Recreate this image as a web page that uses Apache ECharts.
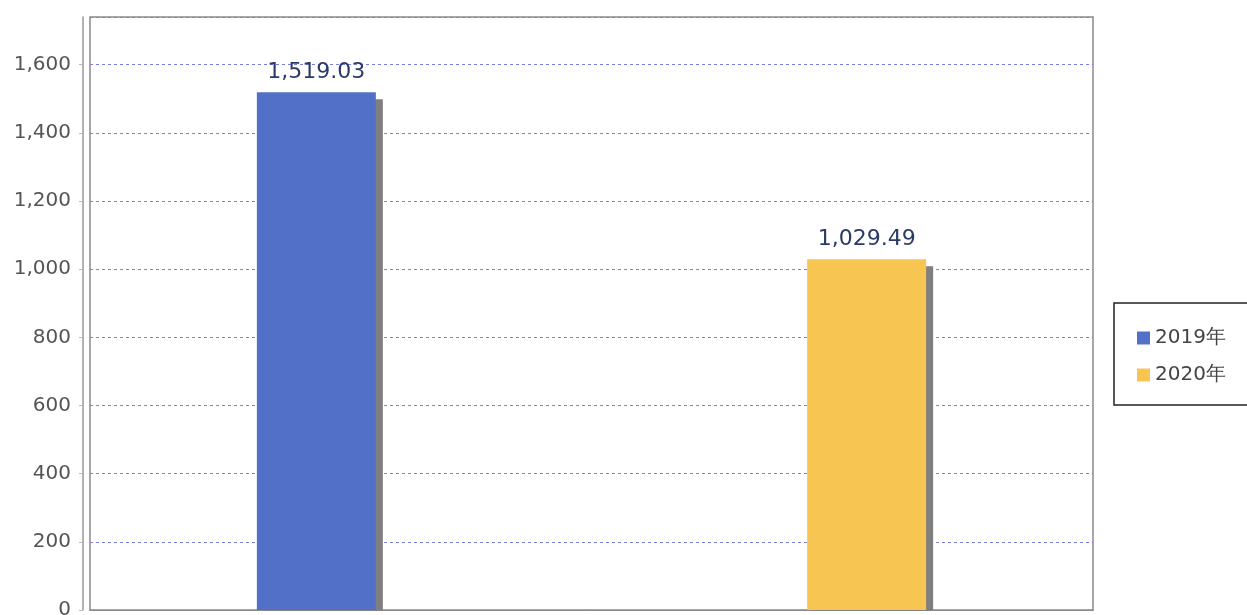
<!DOCTYPE html>
<html>
<head>
<meta charset="utf-8">
<script src="https://cdn.jsdelivr.net/npm/echarts@6/dist/echarts.min.js"></script>
<style>html,body{margin:0;padding:0;background:#fff;overflow:hidden;}#c{width:1247px;height:615px;}</style>
</head>
<body>
<div id="c"></div>
<script>
var categories = ['2019年', '2020年'];
var seriesNames = ['2019年', '2020年'];
var values2019 = [1519.03, null];
var values2020 = [null, 1029.49];
var yTicks = [0, 200, 400, 600, 800, 1000, 1200, 1400, 1600];

var chart = echarts.init(document.getElementById('c'));
var labelCfg = {
  show: true, position: 'top', distance: 9,
  color: '#2b3a67', fontSize: 22, fontFamily: 'DejaVu Sans',
  formatter: function (p) { return p.value == null ? '' : p.value.toLocaleString('en-US', {minimumFractionDigits: 2, maximumFractionDigits: 2}); }
};
var shadow = { shadowColor: '#7f7f7f', shadowOffsetX: 7, shadowOffsetY: 7, shadowBlur: 0 };
chart.setOption({
  animation: false,
  grid: { left: 90, top: 17, right: 154, bottom: 5, show: true, borderColor: '#8a8a8a', borderWidth: 1.5,
          containLabel: false, outerBoundsMode: 'none' },
  legend: {
    orient: 'vertical', left: 1114, top: 303, data: seriesNames,
    itemWidth: 13, itemHeight: 13, itemGap: 17,
    padding: [25, 80, 20, 23],
    borderColor: '#222', borderWidth: 1.5,
    textStyle: { fontSize: 20, color: '#444', fontFamily: 'DejaVu Sans' },
    icon: 'rect'
  },
  xAxis: {
    type: 'category', data: categories,
    axisLabel: { show: false }, axisTick: { show: false },
    axisLine: { lineStyle: { color: '#8a8a8a' } }
  },
  yAxis: {
    type: 'value', min: 0, max: 1740, interval: 200, offset: 7,
    axisLine: { show: true, lineStyle: { color: '#999', width: 1.5 } },
    axisTick: { show: true, length: 4, lineStyle: { color: '#bbb' } },
    axisLabel: {
      showMaxLabel: false, fontSize: 20, color: '#555', fontFamily: 'DejaVu Sans', margin: 12,
      formatter: function (v) { return yTicks.indexOf(v) >= 0 ? v.toLocaleString('en-US') : ''; }
    },
    splitLine: { lineStyle: { color: '#7b7fe0', type: [3, 3], width: 1 } }
  },
  graphic: [{
    type: 'rect', z: 100, left: 88, bottom: 0,
    shape: { width: 1010, height: 4 }, style: { fill: '#fff' }
  }],
  series: [
    { name: seriesNames[0], type: 'bar', data: values2019, barWidth: 119, barGap: '-59%',
      itemStyle: Object.assign({ color: '#5270c7' }, shadow), label: labelCfg },
    { name: seriesNames[1], type: 'bar', data: values2020, barWidth: 119,
      itemStyle: Object.assign({ color: '#f7c552' }, shadow), label: labelCfg }
  ]
});
</script>
</body>
</html>
